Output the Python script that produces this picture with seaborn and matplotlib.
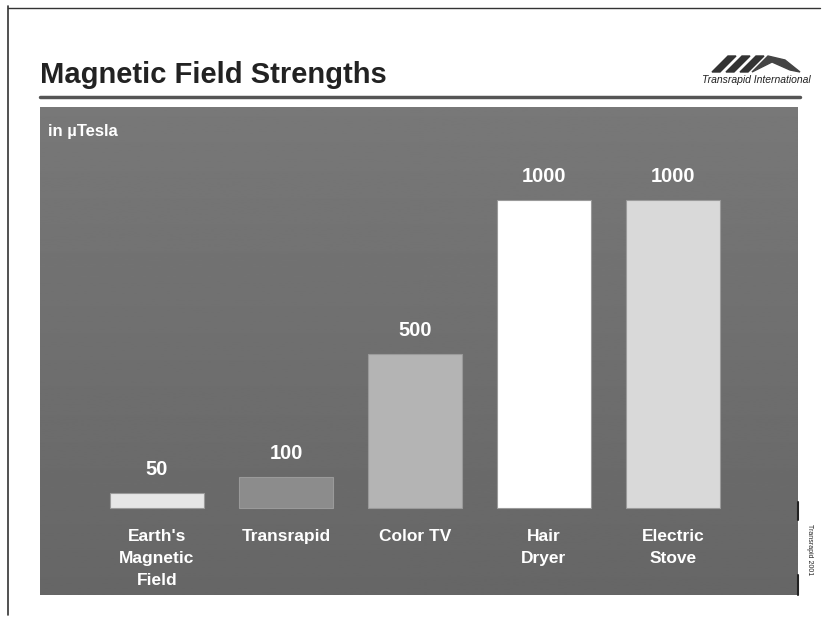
import numpy as np
import pandas as pd
import matplotlib
matplotlib.use("Agg")
import matplotlib.pyplot as plt
from matplotlib.patches import Polygon
import seaborn as sns

# data
categories = ["Earth's\nMagnetic\nField", "Transrapid", "Color TV", "Hair\nDryer", "Electric\nStove"]
values = [50, 100, 500, 1000, 1000]
bar_colors = ["#e6e6e6", "#8c8c8c", "#b4b4b4", "#ffffff", "#d9d9d9"]
value_labels = ["50", "100", "500", "1000", "1000"]

sns.set_theme(style="white")
plt.rcParams['font.family'] = ['Liberation Sans', 'DejaVu Sans']

fig = plt.figure(figsize=(8.23, 6.19), dpi=100)
fig.patch.set_facecolor("white")

ax = fig.add_axes([40/823, 24/619, 758/823, 488/619])

# panel background, slightly lighter at the top
grad = np.linspace(0.47, 0.40, 256).reshape(-1, 1)
ax.imshow(grad, cmap="gray", vmin=0, vmax=1, aspect="auto",
          extent=[0, 1, 0, 1], transform=ax.transAxes, zorder=0)

df = pd.DataFrame({"cat": categories, "val": values})
sns.barplot(data=df, x="cat", y="val", hue="cat", palette=bar_colors,
            legend=False, width=0.73, saturation=1, ax=ax, zorder=2,
            edgecolor="#9a9a9a", linewidth=0.8)

ax.set_xlim(-0.907, 4.97)
ax.set_ylim(-282, 1302)

for i, (v, lab) in enumerate(zip(values, value_labels)):
    ax.text(i, v + 45, lab, ha="center", va="bottom", color="white",
            fontsize=14.5, fontweight="bold", zorder=3)
    ax.text(i, -68, categories[i], ha="center", va="top", color="white",
            fontsize=12.5, fontweight="bold", linespacing=1.6, zorder=3)

ax.text(0.011, 0.95, "in µTesla", transform=ax.transAxes, color="white",
        fontsize=12, fontweight="bold", ha="left", va="center")

ax.set_xlabel("")
ax.set_ylabel("")
ax.set_xticks([])
ax.set_yticks([])
for s in ax.spines.values():
    s.set_visible(False)

# title and rule
fig.text(40/823, 1 - 75/619, "Magnetic Field Strengths", fontsize=21,
         fontweight="bold", color="#222222", ha="left", va="center")
fig.add_artist(plt.Line2D([40/823, 800/823], [1 - 97/619, 1 - 97/619],
                          color="#555555", linewidth=2.5))

# slide border
fig.add_artist(plt.Line2D([8/823, 8/823], [1 - 6/619, 1 - 615/619],
                          color="#333333", linewidth=1.2))
fig.add_artist(plt.Line2D([8/823, 820/823], [1 - 8/619, 1 - 8/619],
                          color="#333333", linewidth=1.0))

# logo
def px(x, y):
    return (x / 823, 1 - y / 619)

for xs in (0, 14, 28):
    fig.add_artist(Polygon([px(712 + xs, 72), px(720 + xs, 72),
                            px(736 + xs, 56), px(728 + xs, 56)],
                           closed=True, color="#333333"))
fig.add_artist(Polygon([px(752, 72), px(768, 56), px(785, 60), px(800, 72),
                        px(790, 70), px(772, 62)], closed=True, color="#444444"))
fig.text(756/823, 1 - 80/619, "Transrapid International", fontsize=7.5,
         fontstyle="italic", color="#222222", ha="center", va="center")

# small side marks
fig.add_artist(plt.Line2D([798/823, 798/823], [1 - 502/619, 1 - 520/619],
                          color="#222222", linewidth=1.5))
fig.add_artist(plt.Line2D([798/823, 798/823], [1 - 575/619, 1 - 595/619],
                          color="#222222", linewidth=1.5))
fig.text(809/823, 1 - 550/619, "Transrapid 2001", fontsize=5, rotation=270,
         color="#222222", ha="center", va="center")

fig.savefig("out.png", dpi=100)
